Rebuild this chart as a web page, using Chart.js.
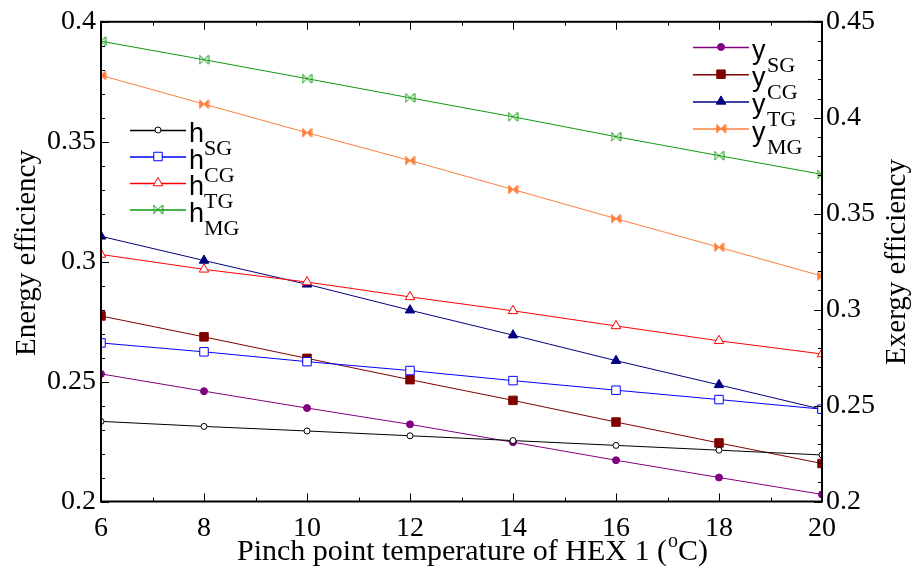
<!DOCTYPE html>
<html>
<head>
<meta charset="utf-8">
<script src="https://cdn.jsdelivr.net/npm/chart.js@4.4.1/dist/chart.umd.min.js"></script>
<style>
  html, body { margin: 0; padding: 0; background: #fff; }
  #wrap { width: 912px; height: 568px; }
</style>
</head>
<body>
<div id="wrap"><canvas id="myChart"></canvas></div>
<script>
// pinch point temperature of HEX 1 (oC)
const temps = [6, 8, 10, 12, 14, 16, 18, 20];

// energy efficiency (left axis)
const hSG = [0.2334, 0.2313, 0.2294, 0.2274, 0.2254, 0.2234, 0.2214, 0.2194];
const hCG = [0.2661, 0.2624, 0.2583, 0.2546, 0.2504, 0.2464, 0.2425, 0.2385];
const hTG = [0.3030, 0.2968, 0.2915, 0.2853, 0.2795, 0.2732, 0.2670, 0.2615];
const hMG = [0.3919, 0.3842, 0.3763, 0.3683, 0.3604, 0.3521, 0.3442, 0.3364];

// exergy efficiency (right axis)
const ySG = [0.2665, 0.2575, 0.2487, 0.2402, 0.2309, 0.2215, 0.2125, 0.2037];
const yCG = [0.2967, 0.2858, 0.2746, 0.2635, 0.2527, 0.2414, 0.2305, 0.2198];
const yTG = [0.3382, 0.3256, 0.3132, 0.2997, 0.2867, 0.2734, 0.2608, 0.2480];
const yMG = [0.4221, 0.4071, 0.3922, 0.3777, 0.3626, 0.3474, 0.3325, 0.3175];

const xTicks = [6, 8, 10, 12, 14, 16, 18, 20];
const leftTicks = [0.2, 0.25, 0.3, 0.35, 0.4];
const rightTicks = [0.2, 0.25, 0.3, 0.35, 0.4, 0.45];

const serif = 'Liberation Serif';
const sans = 'Liberation Sans';

Chart.defaults.font.family = serif;
Chart.defaults.font.size = 28;
Chart.defaults.color = '#000';

// bow-tie marker (two triangles meeting in the middle)
function bowtie(color, filled) {
  const c = document.createElement('canvas');
  c.width = 11; c.height = 11;
  const g = c.getContext('2d');
  g.strokeStyle = color; g.fillStyle = color; g.lineWidth = 1;
  g.beginPath();
  g.moveTo(1, 1); g.lineTo(1, 10); g.lineTo(5.5, 5.5); g.closePath();
  g.moveTo(10, 1); g.lineTo(10, 10); g.lineTo(5.5, 5.5); g.closePath();
  if (filled) g.fill();
  g.stroke();
  return c;
}

const pts = d => temps.map((t, i) => ({ x: t, y: d[i] }));

function series(label, data, color, axis, style, radius, fill) {
  return {
    label, data: pts(data), yAxisID: axis,
    borderColor: color, borderWidth: 1,
    pointStyle: style, pointRadius: radius,
    pointBorderColor: color, pointBackgroundColor: fill, pointBorderWidth: 1,
    clip: 0
  };
}

const greenBow = bowtie('#119911', false);
const orangeBow = bowtie('#ff7f3f', true);

const datasets = [
  series('hSG', hSG, '#000000', 'y', 'circle', 3, '#ffffff'),
  series('hCG', hCG, '#0000ff', 'y', 'rect', 6, '#ffffff'),
  series('hTG', hTG, '#ff0000', 'y', 'triangle', 5.5, '#ffffff'),
  series('hMG', hMG, '#119911', 'y', greenBow, 5, '#119911'),
  series('ySG', ySG, '#800080', 'y2', 'circle', 3.5, '#800080'),
  series('yCG', yCG, '#800000', 'y2', 'rect', 6, '#800000'),
  series('yTG', yTG, '#000080', 'y2', 'triangle', 5.5, '#000080'),
  series('yMG', yMG, '#ff7f3f', 'y2', orangeBow, 5, '#ff7f3f')
];

const fmt = v => String(Number(v.toFixed(2)));

function drawMarker(ctx, ds, x, y) {
  const s = ds.pointStyle, r = ds.pointRadius;
  ctx.save();
  ctx.lineWidth = 1;
  ctx.strokeStyle = ds.pointBorderColor;
  ctx.fillStyle = ds.pointBackgroundColor;
  if (s instanceof HTMLCanvasElement) {
    ctx.drawImage(s, x - s.width / 2, y - s.height / 2);
  } else {
    ctx.beginPath();
    if (s === 'circle') ctx.arc(x, y, r, 0, Math.PI * 2);
    else if (s === 'rect') { const h = r * Math.SQRT1_2; ctx.rect(x - h, y - h, 2 * h, 2 * h); }
    else if (s === 'triangle') {
      ctx.moveTo(x, y - r);
      ctx.lineTo(x + r * 0.866, y + r * 0.5);
      ctx.lineTo(x - r * 0.866, y + r * 0.5);
      ctx.closePath();
    }
    ctx.fill(); ctx.stroke();
  }
  ctx.restore();
}

const decor = {
  id: 'decor',
  afterDraw(chart) {
    const { ctx, chartArea: a, scales } = chart;
    const x = scales.x, yl = scales.y, yr = scales.y2;
    ctx.save();
    ctx.strokeStyle = '#000';
    ctx.lineWidth = 1;
    ctx.beginPath();
    // x ticks, bottom and top, inward
    for (let v = x.min; v <= x.max + 1e-9; v += 1) {
      const px = Math.round(x.getPixelForValue(v)) + 0.5;
      const len = (v - x.min) % 2 === 0 ? 8 : 4;
      ctx.moveTo(px, a.bottom); ctx.lineTo(px, a.bottom - len);
      ctx.moveTo(px, a.top); ctx.lineTo(px, a.top + len);
    }
    // left axis ticks
    for (let k = 0; k <= 20; k++) {
      const v = yl.min + k * 0.01;
      const py = Math.round(yl.getPixelForValue(v)) + 0.5;
      const len = k % 5 === 0 ? 8 : 4;
      ctx.moveTo(a.left, py); ctx.lineTo(a.left + len, py);
    }
    // right axis ticks
    for (let k = 0; k <= 25; k++) {
      const v = yr.min + k * 0.01;
      const py = Math.round(yr.getPixelForValue(v)) + 0.5;
      const len = k % 5 === 0 ? 8 : 4;
      ctx.moveTo(a.right, py); ctx.lineTo(a.right - len, py);
    }
    ctx.stroke();
    // frame
    ctx.lineWidth = 2;
    ctx.strokeRect(a.left, a.top, a.right - a.left, a.bottom - a.top);

    // axis titles
    ctx.fillStyle = '#000';
    ctx.textBaseline = 'alphabetic';
    ctx.font = '30px ' + serif;
    const t1 = 'Pinch point temperature of HEX 1 (', t2 = 'o', t3 = 'C)';
    let tx = 237;
    const ty = 560;
    ctx.textAlign = 'left';
    ctx.fillText(t1, tx, ty); tx += ctx.measureText(t1).width;
    ctx.font = '20px ' + serif;
    ctx.fillText(t2, tx + 1, ty - 13); tx += ctx.measureText(t2).width + 1;
    ctx.font = '30px ' + serif;
    ctx.fillText(t3, tx, ty);

    ctx.font = '29px ' + serif;
    ctx.textAlign = 'center';
    ctx.textBaseline = 'middle';
    ctx.save();
    ctx.translate(27, 253); ctx.rotate(-Math.PI / 2);
    ctx.fillText('Energy efficiency', 0, 0);
    ctx.restore();
    ctx.save();
    ctx.translate(897, 262); ctx.rotate(-Math.PI / 2);
    ctx.fillText('Exergy efficiency', 0, 0);
    ctx.restore();

    // legends
    const legend = (list, x0, y0, dy, sym, subs) => {
      list.forEach((ds, i) => {
        const y = y0 + i * dy;
        ctx.strokeStyle = ds.borderColor;
        ctx.lineWidth = 1.5;
        ctx.beginPath();
        ctx.moveTo(x0, y + 0.5); ctx.lineTo(x0 + 56, y + 0.5);
        ctx.stroke();
        drawMarker(ctx, ds, x0 + 28, y);
        ctx.fillStyle = '#000';
        ctx.textAlign = 'left';
        ctx.textBaseline = 'alphabetic';
        ctx.font = '27px ' + sans;
        ctx.fillText(sym, x0 + 59, y + 12);
        ctx.font = '22px ' + serif;
        ctx.fillText(subs[i], x0 + 74, y + 25);
      });
    };
    const subs = ['SG', 'CG', 'TG', 'MG'];
    legend(datasets.slice(0, 4), 130, 130, 26.5, 'h', subs);
    legend(datasets.slice(4, 8), 693, 47, 27.2, 'y', subs);
    ctx.restore();
  }
};

const tickFont = { family: serif, size: 28 };

new Chart(document.getElementById('myChart'), {
  type: 'line',
  data: { datasets },
  options: {
    responsive: true,
    maintainAspectRatio: false,
    animation: false,
    layout: { padding: { top: 19, left: 0, right: 0, bottom: 0 } },
    plugins: { legend: { display: false }, tooltip: { enabled: false } },
    scales: {
      x: {
        type: 'linear', min: 6, max: 20,
        afterBuildTicks: s => { s.ticks = xTicks.map(v => ({ value: v })); },
        afterFit: s => { s.height = 66.5; },
        grid: { display: false, drawTicks: false },
        border: { display: false },
        ticks: { color: '#000', padding: 10, font: tickFont, callback: v => String(v) }
      },
      y: {
        position: 'left', min: 0.2, max: 0.4,
        afterBuildTicks: s => { s.ticks = leftTicks.map(v => ({ value: v })); },
        afterFit: s => { s.width = 101; },
        grid: { display: false, drawTicks: false },
        border: { display: false },
        ticks: { color: '#000', padding: 5, font: tickFont, callback: v => fmt(v) }
      },
      y2: {
        position: 'right', min: 0.2, max: 0.45,
        afterBuildTicks: s => { s.ticks = rightTicks.map(v => ({ value: v })); },
        afterFit: s => { s.width = 90; },
        grid: { display: false, drawTicks: false },
        border: { display: false },
        ticks: { color: '#000', padding: 4, font: tickFont, callback: v => fmt(v) }
      }
    }
  },
  plugins: [decor]
});
</script>
</body>
</html>
